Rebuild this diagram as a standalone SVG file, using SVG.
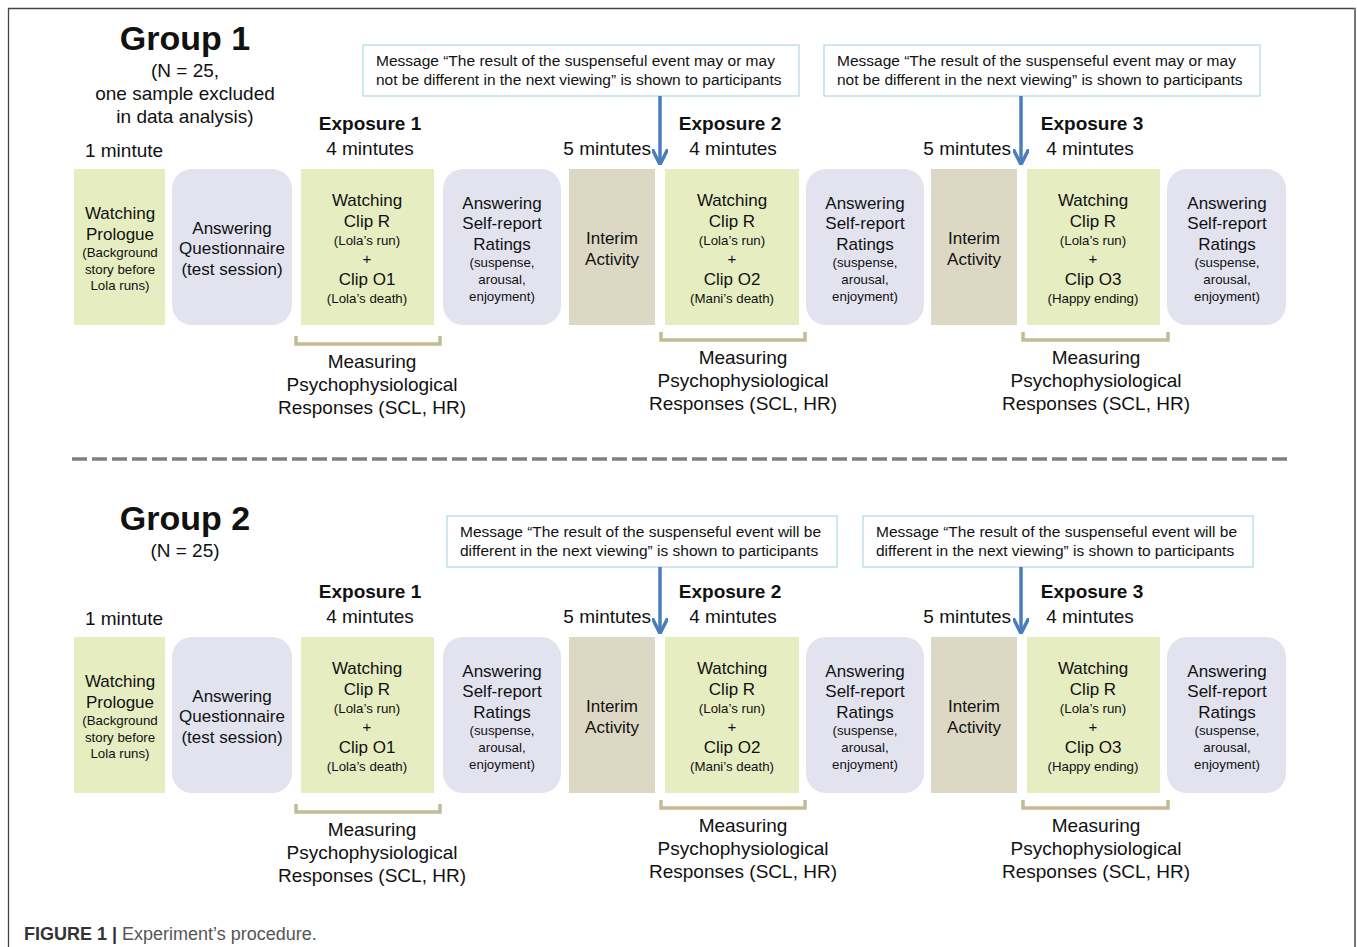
<svg xmlns="http://www.w3.org/2000/svg" width="1357" height="947" viewBox="0 0 1357 947">
<defs>
<style>
text{font-family:"Liberation Sans",Arial,sans-serif;fill:#111;text-anchor:middle}
.big{font-size:17px}
.sm{font-size:13.3px}
.pl{font-size:15px}
.lbl{font-size:19px}
.bold{font-weight:bold}
.title{font-size:34px;font-weight:bold}
.msg{font-size:15.5px;text-anchor:start}
.green{fill:#e6edc0}
.lav{fill:#e3e3f0}
.tan{fill:#ddd8c4}
.mbox{fill:#fff;stroke:#b5dce8;stroke-width:1.3}
.brk{fill:none;stroke:#c2bb95;stroke-width:3.5}
.arr{stroke:#4a7ebb;stroke-width:3.5;fill:none}
</style>
<marker id="ah" viewBox="0 0 10 10" refX="9" refY="5" markerWidth="4.5" markerHeight="4.5" orient="auto" markerUnits="strokeWidth">
<path d="M0,0 L10,5 L0,10" fill="none" stroke="#4a7ebb" stroke-width="2.2"/>
</marker>
</defs>
<rect width="1357" height="947" fill="#fff"/>
<path d="M8.5,947 V8.5 H1355 V947" fill="none" stroke="#444" stroke-width="1.3"/>
<line x1="1355" y1="8" x2="1355" y2="947" stroke="#777" stroke-width="2"/>
<line x1="72" y1="459" x2="1287" y2="459" stroke="#808080" stroke-width="3.5" stroke-dasharray="15,5"/>

<!-- GROUP 1 -->
<g id="group1-title">
<text x="185" y="50" class="title">Group 1</text>
<text x="185" y="77" class="lbl">(N = 25,</text>
<text x="185" y="100" class="lbl">one sample excluded</text>
<text x="185" y="123" class="lbl">in data analysis)</text>
</g>
<g id="g1-labels">
<text x="124" y="157" class="lbl">1 mintute</text>
<text x="370" y="130" class="lbl bold">Exposure 1</text>
<text x="370" y="155" class="lbl">4 mintutes</text>
<text x="651" y="155" class="lbl" style="text-anchor:end">5 mintutes</text>
<text x="730" y="130" class="lbl bold">Exposure 2</text>
<text x="733" y="155" class="lbl">4 mintutes</text>
<text x="1011" y="155" class="lbl" style="text-anchor:end">5 mintutes</text>
<text x="1092" y="130" class="lbl bold">Exposure 3</text>
<text x="1090" y="155" class="lbl">4 mintutes</text>
</g>
<g id="g1-msg1">
<rect x="363" y="45" width="436" height="51" class="mbox"/>
<text x="376" y="66" class="msg">Message “The result of the suspenseful event may or may</text>
<text x="376" y="85" class="msg">not be different in the next viewing” is shown to participants</text>
</g>
<g id="g1-msg2">
<rect x="824" y="45" width="436" height="51" class="mbox"/>
<text x="837" y="66" class="msg">Message “The result of the suspenseful event may or may</text>
<text x="837" y="85" class="msg">not be different in the next viewing” is shown to participants</text>
</g>
<g id="g1-prologue">
<rect x="74" y="169" width="91" height="156" class="green"/>
<text x="120" y="219" class="big">Watching</text>
<text x="120" y="240" class="big">Prologue</text>
<text x="120" y="256.5" class="sm">(Background</text>
<text x="120" y="273.5" class="sm">story before</text>
<text x="120" y="289.5" class="sm">Lola runs)</text>
</g>
<g id="g1-questionnaire">
<rect x="172" y="169" width="120" height="156" rx="20" class="lav"/>
<text x="232" y="234" class="big">Answering</text>
<text x="232" y="254" class="big">Questionnaire</text>
<text x="232" y="275" class="big">(test session)</text>
</g>
<g id="g1-clip1">
<rect x="301" y="169" width="133" height="156" class="green"/>
<text x="367" y="206" class="big">Watching</text>
<text x="367" y="227" class="big">Clip R</text>
<text x="367" y="244.5" class="sm">(Lola’s run)</text>
<text x="367" y="263.5" class="pl">+</text>
<text x="367" y="285" class="big">Clip O1</text>
<text x="367" y="302.5" class="sm">(Lola’s death)</text>
</g>
<g id="g1-self1">
<rect x="443" y="169" width="118" height="156" rx="20" class="lav"/>
<text x="502" y="209" class="big">Answering</text>
<text x="502" y="229" class="big">Self-report</text>
<text x="502" y="250" class="big">Ratings</text>
<text x="502" y="266.5" class="sm">(suspense,</text>
<text x="502" y="283.5" class="sm">arousal,</text>
<text x="502" y="300.5" class="sm">enjoyment)</text>
</g>
<g id="g1-interim1">
<rect x="569" y="169" width="86" height="156" class="tan"/>
<text x="612" y="244" class="big">Interim</text>
<text x="612" y="265" class="big">Activity</text>
</g>
<g id="g1-clip2">
<rect x="665" y="169" width="134" height="156" class="green"/>
<text x="732" y="206" class="big">Watching</text>
<text x="732" y="227" class="big">Clip R</text>
<text x="732" y="244.5" class="sm">(Lola’s run)</text>
<text x="732" y="263.5" class="pl">+</text>
<text x="732" y="285" class="big">Clip O2</text>
<text x="732" y="302.5" class="sm">(Mani’s death)</text>
</g>
<g id="g1-self2">
<rect x="806" y="169" width="118" height="156" rx="20" class="lav"/>
<text x="865" y="209" class="big">Answering</text>
<text x="865" y="229" class="big">Self-report</text>
<text x="865" y="250" class="big">Ratings</text>
<text x="865" y="266.5" class="sm">(suspense,</text>
<text x="865" y="283.5" class="sm">arousal,</text>
<text x="865" y="300.5" class="sm">enjoyment)</text>
</g>
<g id="g1-interim2">
<rect x="931" y="169" width="86" height="156" class="tan"/>
<text x="974" y="244" class="big">Interim</text>
<text x="974" y="265" class="big">Activity</text>
</g>
<g id="g1-clip3">
<rect x="1027" y="169" width="133" height="156" class="green"/>
<text x="1093" y="206" class="big">Watching</text>
<text x="1093" y="227" class="big">Clip R</text>
<text x="1093" y="244.5" class="sm">(Lola’s run)</text>
<text x="1093" y="263.5" class="pl">+</text>
<text x="1093" y="285" class="big">Clip O3</text>
<text x="1093" y="302.5" class="sm">(Happy ending)</text>
</g>
<g id="g1-self3">
<rect x="1167" y="169" width="119" height="156" rx="20" class="lav"/>
<text x="1227" y="209" class="big">Answering</text>
<text x="1227" y="229" class="big">Self-report</text>
<text x="1227" y="250" class="big">Ratings</text>
<text x="1227" y="266.5" class="sm">(suspense,</text>
<text x="1227" y="283.5" class="sm">arousal,</text>
<text x="1227" y="300.5" class="sm">enjoyment)</text>
</g>
<g id="g1-measure1">
<path d="M296,336 V344 H440 V336" class="brk"/>
<text x="372" y="368" class="lbl">Measuring</text>
<text x="372" y="391" class="lbl">Psychophysiological</text>
<text x="372" y="414" class="lbl">Responses (SCL, HR)</text>
</g>
<g id="g1-measure2">
<path d="M661,332 V340 H805 V332" class="brk"/>
<text x="743" y="364" class="lbl">Measuring</text>
<text x="743" y="387" class="lbl">Psychophysiological</text>
<text x="743" y="410" class="lbl">Responses (SCL, HR)</text>
</g>
<g id="g1-measure3">
<path d="M1023,332 V340 H1168 V332" class="brk"/>
<text x="1096" y="364" class="lbl">Measuring</text>
<text x="1096" y="387" class="lbl">Psychophysiological</text>
<text x="1096" y="410" class="lbl">Responses (SCL, HR)</text>
</g>

<!-- GROUP 2 -->
<g id="group2-title">
<text x="185" y="530" class="title">Group 2</text>
<text x="185" y="557" class="lbl">(N = 25)</text>
</g>
<g id="g2-msg1">
<rect x="447" y="516" width="390" height="51" class="mbox"/>
<text x="460" y="537" class="msg">Message “The result of the suspenseful event will be</text>
<text x="460" y="556" class="msg">different in the next viewing” is shown to participants</text>
</g>
<g id="g2-msg2">
<rect x="863" y="516" width="390" height="51" class="mbox"/>
<text x="876" y="537" class="msg">Message “The result of the suspenseful event will be</text>
<text x="876" y="556" class="msg">different in the next viewing” is shown to participants</text>
</g>
<g transform="translate(0,468)">
<g id="g2-labels">
<text x="124" y="157" class="lbl">1 mintute</text>
<text x="370" y="130" class="lbl bold">Exposure 1</text>
<text x="370" y="155" class="lbl">4 mintutes</text>
<text x="651" y="155" class="lbl" style="text-anchor:end">5 mintutes</text>
<text x="730" y="130" class="lbl bold">Exposure 2</text>
<text x="733" y="155" class="lbl">4 mintutes</text>
<text x="1011" y="155" class="lbl" style="text-anchor:end">5 mintutes</text>
<text x="1092" y="130" class="lbl bold">Exposure 3</text>
<text x="1090" y="155" class="lbl">4 mintutes</text>
</g>
<g id="g2-prologue">
<rect x="74" y="169" width="91" height="156" class="green"/>
<text x="120" y="219" class="big">Watching</text>
<text x="120" y="240" class="big">Prologue</text>
<text x="120" y="256.5" class="sm">(Background</text>
<text x="120" y="273.5" class="sm">story before</text>
<text x="120" y="289.5" class="sm">Lola runs)</text>
</g>
<g id="g2-questionnaire">
<rect x="172" y="169" width="120" height="156" rx="20" class="lav"/>
<text x="232" y="234" class="big">Answering</text>
<text x="232" y="254" class="big">Questionnaire</text>
<text x="232" y="275" class="big">(test session)</text>
</g>
<g id="g2-clip1">
<rect x="301" y="169" width="133" height="156" class="green"/>
<text x="367" y="206" class="big">Watching</text>
<text x="367" y="227" class="big">Clip R</text>
<text x="367" y="244.5" class="sm">(Lola’s run)</text>
<text x="367" y="263.5" class="pl">+</text>
<text x="367" y="285" class="big">Clip O1</text>
<text x="367" y="302.5" class="sm">(Lola’s death)</text>
</g>
<g id="g2-self1">
<rect x="443" y="169" width="118" height="156" rx="20" class="lav"/>
<text x="502" y="209" class="big">Answering</text>
<text x="502" y="229" class="big">Self-report</text>
<text x="502" y="250" class="big">Ratings</text>
<text x="502" y="266.5" class="sm">(suspense,</text>
<text x="502" y="283.5" class="sm">arousal,</text>
<text x="502" y="300.5" class="sm">enjoyment)</text>
</g>
<g id="g2-interim1">
<rect x="569" y="169" width="86" height="156" class="tan"/>
<text x="612" y="244" class="big">Interim</text>
<text x="612" y="265" class="big">Activity</text>
</g>
<g id="g2-clip2">
<rect x="665" y="169" width="134" height="156" class="green"/>
<text x="732" y="206" class="big">Watching</text>
<text x="732" y="227" class="big">Clip R</text>
<text x="732" y="244.5" class="sm">(Lola’s run)</text>
<text x="732" y="263.5" class="pl">+</text>
<text x="732" y="285" class="big">Clip O2</text>
<text x="732" y="302.5" class="sm">(Mani’s death)</text>
</g>
<g id="g2-self2">
<rect x="806" y="169" width="118" height="156" rx="20" class="lav"/>
<text x="865" y="209" class="big">Answering</text>
<text x="865" y="229" class="big">Self-report</text>
<text x="865" y="250" class="big">Ratings</text>
<text x="865" y="266.5" class="sm">(suspense,</text>
<text x="865" y="283.5" class="sm">arousal,</text>
<text x="865" y="300.5" class="sm">enjoyment)</text>
</g>
<g id="g2-interim2">
<rect x="931" y="169" width="86" height="156" class="tan"/>
<text x="974" y="244" class="big">Interim</text>
<text x="974" y="265" class="big">Activity</text>
</g>
<g id="g2-clip3">
<rect x="1027" y="169" width="133" height="156" class="green"/>
<text x="1093" y="206" class="big">Watching</text>
<text x="1093" y="227" class="big">Clip R</text>
<text x="1093" y="244.5" class="sm">(Lola’s run)</text>
<text x="1093" y="263.5" class="pl">+</text>
<text x="1093" y="285" class="big">Clip O3</text>
<text x="1093" y="302.5" class="sm">(Happy ending)</text>
</g>
<g id="g2-self3">
<rect x="1167" y="169" width="119" height="156" rx="20" class="lav"/>
<text x="1227" y="209" class="big">Answering</text>
<text x="1227" y="229" class="big">Self-report</text>
<text x="1227" y="250" class="big">Ratings</text>
<text x="1227" y="266.5" class="sm">(suspense,</text>
<text x="1227" y="283.5" class="sm">arousal,</text>
<text x="1227" y="300.5" class="sm">enjoyment)</text>
</g>
<g id="g2-measure1">
<path d="M296,336 V344 H440 V336" class="brk"/>
<text x="372" y="368" class="lbl">Measuring</text>
<text x="372" y="391" class="lbl">Psychophysiological</text>
<text x="372" y="414" class="lbl">Responses (SCL, HR)</text>
</g>
<g id="g2-measure2">
<path d="M661,332 V340 H805 V332" class="brk"/>
<text x="743" y="364" class="lbl">Measuring</text>
<text x="743" y="387" class="lbl">Psychophysiological</text>
<text x="743" y="410" class="lbl">Responses (SCL, HR)</text>
</g>
<g id="g2-measure3">
<path d="M1023,332 V340 H1168 V332" class="brk"/>
<text x="1096" y="364" class="lbl">Measuring</text>
<text x="1096" y="387" class="lbl">Psychophysiological</text>
<text x="1096" y="410" class="lbl">Responses (SCL, HR)</text>
</g>
</g>

<g id="connectors">
<line x1="660" y1="96" x2="660" y2="163" class="arr" marker-end="url(#ah)"/>
<line x1="1021" y1="96" x2="1021" y2="163" class="arr" marker-end="url(#ah)"/>
<line x1="660" y1="567" x2="660" y2="632" class="arr" marker-end="url(#ah)"/>
<line x1="1021" y1="567" x2="1021" y2="632" class="arr" marker-end="url(#ah)"/>
</g>

<g id="caption">
<text x="24" y="940" style="text-anchor:start;font-size:18px"><tspan style="font-weight:bold;fill:#333">FIGURE 1 | </tspan><tspan style="fill:#555">Experiment’s procedure.</tspan></text>
</g>
</svg>
